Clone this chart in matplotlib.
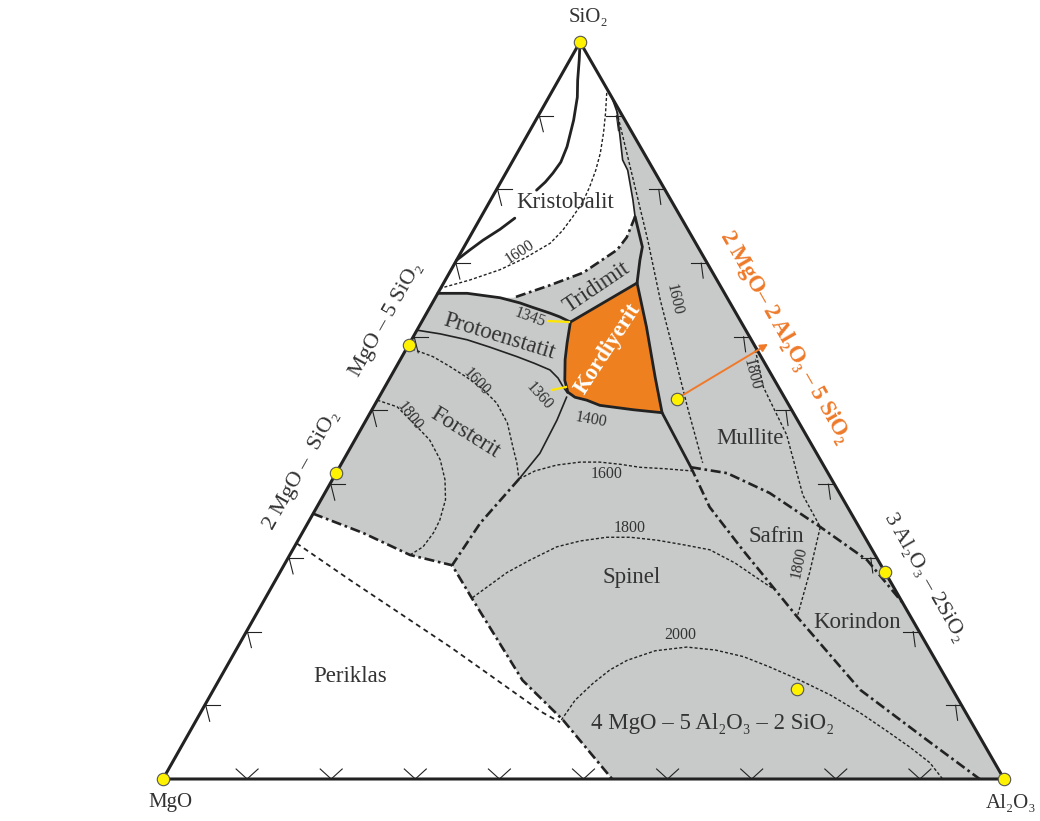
import numpy as np
import matplotlib.pyplot as plt

plt.rcParams['font.family'] = ['Liberation Serif', 'DejaVu Serif']

# compositions in wt% as (SiO2, Al2O3); MgO is the remainder
compound_si = [100, 0, 0, 58.9, 41.5, 28.1, 51.6, 12.2]
compound_al = [0, 0, 100, 0, 0, 71.9, 35.5, 69.3]

kristobalit_line_a = [(100, 0), (97.6, 1.1), (94.8, 2.3), (92.5, 3.4), (89.4, 4.5), (85.8, 5.5),
                      (83.7, 5.8), (82.2, 5.6), (81.0, 5.3), (79.9, 4.8)]
kristobalit_line_b = [(76.1, 4.1), (74.6, 3.1), (73.1, 1.8), (71.8, 0.9), (70.4, 0)]
kristobalit_1600 = [(93.1, 6.6), (90.4, 7.8), (87.7, 8.9), (84.9, 9.9), (82.6, 10.5), (80.3, 10.9),
                    (78.2, 11.1), (76.3, 10.9), (74.4, 10.6), (72.7, 10.0), (70.7, 8.0),
                    (69.1, 5.8), (67.7, 2.9), (66.6, 0)]
silica_edge = [(92.5, 7.5), (90.4, 9.2), (84.0, 13.0), (82.6, 14.3), (78.6, 16.9), (76.3, 18.3)]
tridimit_top = [(76.3, 18.3), (73.5, 18.7), (71.8, 18.4), (68.7, 15.9), (67.0, 12.8), (65.3, 9.3)]
tridimit_right = [(76.3, 18.3), (72.2, 21.2), (70.4, 21.8), (67.3, 23.0)]
kordiyerit = [(67.3, 23.0), (62.0, 17.7), (59.2, 18.7), (56.9, 19.6), (54.1, 20.95), (52.5, 22.1),
              (51.8, 23.3), (51.4, 24.9), (50.7, 26.8), (50.1, 31.1), (49.7, 34.7),
              (54.5, 31.5), (61.3, 27.1)]
protoen_top = [(65.9, 0), (65.9, 3.5), (65.3, 7.7), (64.6, 10.4), (64.0, 12.2), (63.2, 14.7),
               (62.7, 16.1), (62.0, 17.7)]
protoen_bottom = [(60.9, 0), (60.4, 3.0), (59.6, 6.6), (58.6, 9.8), (57.3, 13.7), (56.4, 16.2),
                  (55.5, 18.5), (54.4, 20.0), (53.2, 21.2), (52.4, 22.1)]
forsterit_right = [(51.8, 22.3), (48.7, 22.7), (44.2, 22.9), (40.7, 22.15)]
kordiyerit_mullite = [(49.7, 34.7), (42.3, 41.8)]
spinel_left = [(40.7, 22.15), (34.7, 20.5), (29.0, 20.0), (24.3, 24.8), (13.4, 36.1),
               (8.0, 43.6), (0, 53.4)]
forsterit_bottom = [(36.0, 0), (33.4, 7.2), (30.4, 14.3), (29.0, 20.0)]
periklas_line = [(32.0, 0), (27.0, 8.85), (17.9, 25.3), (9.0, 40.7), (7.7, 43.4)]
forsterit_1800 = [(51.4, 0), (50.5, 2.8), (47.8, 6.5), (46.0, 8.9), (43.3, 11.5), (40.6, 13.4),
                  (37.9, 14.8), (35.1, 15.5), (33.4, 15.6), (31.5, 15.3), (30.4, 14.3)]
forsterit_1600 = [(58.6, 0), (57.3, 3.7), (56.0, 6.3), (54.5, 9.1), (52.9, 11.8), (51.0, 14.4),
                  (48.3, 17.0), (45.0, 19.3), (42.9, 20.8), (40.7, 22.15)]
spinel_1600 = [(40.7, 22.15), (41.8, 23.5), (42.6, 25.7), (43.0, 28.3), (43.0, 30.6),
               (42.7, 33.2), (42.3, 35.7), (42.1, 38.8), (41.8, 42.2)]
spinel_korund = [(42.3, 41.8), (36.9, 46.7), (31.1, 53.5), (22.0, 64.5), (12.1, 76.9),
                 (5.3, 88.2), (0, 97.1)]
mullite_bottom = [(42.3, 41.8), (41.5, 46.5), (38.8, 52.9), (34.2, 61.2), (29.7, 69.0), (23.9, 76.1)]
mullite_1600 = [(90.5, 9.1), (79.9, 16.6), (73.1, 21.4), (65.0, 26.9), (58.2, 31.8),
                (50.1, 37.6), (42.9, 42.9)]
mullite_1800 = [(58.9, 41.1), (53.2, 45.0), (46.7, 51.0), (38.5, 57.0), (34.2, 61.2),
                (28.0, 63.0), (22.0, 64.5)]
spinel_1800 = [(24.6, 24.6), (26.3, 25.8), (28.0, 27.0), (29.7, 28.9), (31.5, 31.2), (32.3, 33.6),
               (32.8, 36.5), (32.8, 39.3), (32.4, 42.7), (31.75, 46.3), (31.1, 49.6),
               (29.3, 53.5), (27.0, 57.6), (25.9, 59.6)]
spinel_2000 = [(8.0, 43.4), (10.7, 43.7), (13.0, 44.7), (14.8, 45.8), (16.1, 47.2), (17.4, 49.9),
               (17.9, 53.4), (17.5, 57.0), (16.6, 60.8), (15.2, 64.6), (13.4, 69.1), (11.4, 73.7),
               (9.0, 78.4), (6.65, 82.6), (4.3, 86.7), (2.2, 90.1), (0, 92.7)]

# corners of the triangle in the picture (pixels)
MGO_XY = (163, 779)
AL_XY = (1004, 779)
SI_XY = (580, 42)

GREY = '#c8c9c9'
ORANGE = '#ee801f'
INK = '#222222'
TXT = '#333333'


def to_xy(pts):
    pts = np.asarray(pts, dtype=float)
    si, al = pts[:, 0] / 100, pts[:, 1] / 100
    x = MGO_XY[0] + (AL_XY[0] - MGO_XY[0]) * al + (SI_XY[0] - MGO_XY[0]) * si
    y = MGO_XY[1] + (SI_XY[1] - MGO_XY[1]) * si
    return x, y


fig = plt.figure(figsize=(10.4, 8.21), dpi=100)
ax = fig.add_axes([0, 0, 1, 1])
ax.set_xlim(0, 1040)
ax.set_ylim(821, 0)
ax.axis('off')

# fills
corners = [(0, 0), (0, 100), (100, 0)]
ax.fill(*to_xy(corners), color=GREY, lw=0, zorder=1)
white_top = [(100, 0)] + silica_edge + tridimit_top[1:] + [(65.3, 7.7), (65.9, 3.5), (65.9, 0)]
ax.fill(*to_xy(white_top), color='white', lw=0, zorder=1)
periklas = [(0, 0)] + forsterit_bottom + spinel_left[3:]
ax.fill(*to_xy(periklas), color='white', lw=0, zorder=1)
ax.fill(*to_xy(kordiyerit), facecolor=ORANGE, edgecolor=INK, lw=2.0, zorder=2)

# line styles
thick = dict(color=INK, lw=2.0, solid_capstyle='round', solid_joinstyle='round', zorder=3)
medium = dict(color=INK, lw=1.2, solid_joinstyle='round', zorder=3)
dashdot = dict(color=INK, lw=1.9, ls=(0, (3.8, 1.4, 1.0, 1.4)), zorder=3)
iso = dict(color=INK, lw=1.0, ls=(0, (2.2, 1.5)), zorder=3)

for c in [kristobalit_line_a, kristobalit_line_b, tridimit_right, protoen_top, kordiyerit_mullite]:
    ax.plot(*to_xy(c), **thick)
for c in [silica_edge, protoen_bottom, forsterit_right]:
    ax.plot(*to_xy(c), **medium)
for c in [tridimit_top, spinel_left, forsterit_bottom, spinel_korund, mullite_bottom]:
    ax.plot(*to_xy(c), **dashdot)
for c in [kristobalit_1600, forsterit_1800, forsterit_1600, spinel_1600, mullite_1600,
          mullite_1800, spinel_1800, spinel_2000]:
    ax.plot(*to_xy(c), **iso)
ax.plot(*to_xy(periklas_line), color=INK, lw=1.3, ls=(0, (2.8, 2.2)), zorder=3)

# triangle outline
tx, ty = to_xy(corners + [corners[0]])
ax.plot(tx, ty, color=INK, lw=2.2, solid_joinstyle='miter', zorder=4)

# edge ticks every 10 %
for s in range(10, 100, 10):
    x, y = to_xy([(s, 0)])
    x, y = x[0], y[0]
    ax.plot([x, x + 15], [y, y], color=INK, lw=0.8, zorder=4)
    ax.plot([x + 1, x + 5], [y, y + 16], color=INK, lw=0.8, zorder=4)
    x, y = to_xy([(s, 100 - s)])
    x, y = x[0], y[0]
    ax.plot([x - 16, x], [y, y], color=INK, lw=0.8, zorder=4)
    ax.plot([x - 6, x - 4], [y, y + 15], color=INK, lw=0.8, zorder=4)
    x, y = to_xy([(0, s)])
    x, y = x[0], y[0]
    ax.plot([x - 11, x, x + 11], [y - 10, y, y - 10], color=INK, lw=0.8, zorder=4)

# compound points
cx, cy = to_xy(list(zip(compound_si, compound_al)))
ax.scatter(cx, cy, s=80, c='#fff200', edgecolors='#555555', linewidths=0.8, zorder=6)

# cordierite arrow
ax.annotate('', xy=(768, 344), xytext=(cx[6], cy[6]),
            arrowprops=dict(arrowstyle='-|>', color='#f07a2a', lw=1.4, mutation_scale=11,
                            shrinkA=4, shrinkB=0), zorder=5)

# yellow pointers for eutectic temperatures
ax.plot([548, 569], [321, 322], color='#ffe600', lw=1.6, zorder=5)
ax.plot([552, 566], [390, 387], color='#ffe600', lw=1.6, zorder=5)

# corner and join labels
lab = dict(color=TXT, ha='center', va='center', rotation_mode='anchor', zorder=7)
ax.text(588, 18, 'SiO₂', fontsize=15, **lab)
ax.text(170, 803, 'MgO', fontsize=15, **lab)
ax.text(1011, 803, 'Al₂O₃', fontsize=15, **lab)
ax.text(386, 320, 'MgO – 5 SiO₂', fontsize=16, rotation=60.5, **lab)
ax.text(302, 470, '2 MgO –  SiO₂', fontsize=16, rotation=60.5, **lab)
ax.text(924, 578, '3 Al₂O₃ – 2SiO₂', fontsize=16, rotation=-60.1, **lab)
ax.text(785, 337, '2 MgO– 2 Al₂O₃ – 5 SiO₂', fontsize=16.5,
        fontweight='bold', color='#ee7a2a', ha='center', va='center', rotation=-60.1,
        rotation_mode='anchor', zorder=7)

# phase field labels
ax.text(565, 203, 'Kristobalit', fontsize=16.5, **lab)
ax.text(597, 287, 'Tridimit', fontsize=16.5, rotation=34, **lab)
ax.text(499, 337, 'Protoenstatit', fontsize=16.5, rotation=-17, **lab)
ax.text(608, 349, 'Kordiyerit', fontsize=16.5, fontweight='bold', color='white', ha='center',
        va='center', rotation=57, rotation_mode='anchor', zorder=7)
ax.text(465, 433, 'Forsterit', fontsize=16.5, rotation=-32, **lab)
ax.text(750, 439, 'Mullite', fontsize=16.5, **lab)
ax.text(776, 537, 'Safrin', fontsize=16.5, **lab)
ax.text(857, 622, 'Korindon', fontsize=16.5, **lab)
ax.text(632, 578, 'Spinel', fontsize=16.5, **lab)
ax.text(350, 677, 'Periklas', fontsize=16.5, **lab)
ax.text(713, 724, '4 MgO – 5 Al₂O₃ – 2 SiO₂', fontsize=16.5, **lab)

# isotherm labels
iso_lab = dict(lab, fontsize=11.5)
ax.text(520, 252, '1600', rotation=33, **iso_lab)
ax.text(530, 318, '1345', rotation=-20, **iso_lab)
ax.text(539, 396, '1360', rotation=-48, **iso_lab)
ax.text(591, 420, '1400', rotation=-10, **iso_lab)
ax.text(476, 382, '1600', rotation=-47, **iso_lab)
ax.text(410, 416, '1800', rotation=-52, **iso_lab)
ax.text(674, 300, '1600', rotation=-77, **iso_lab)
ax.text(752, 374, '1800', rotation=-75, **iso_lab)
ax.text(799, 563, '1800', rotation=78, **iso_lab)
ax.text(607, 474, '1600', **iso_lab)
ax.text(630, 528, '1800', **iso_lab)
ax.text(680, 635, '2000', **iso_lab)

fig.savefig('out.png', dpi=100)
